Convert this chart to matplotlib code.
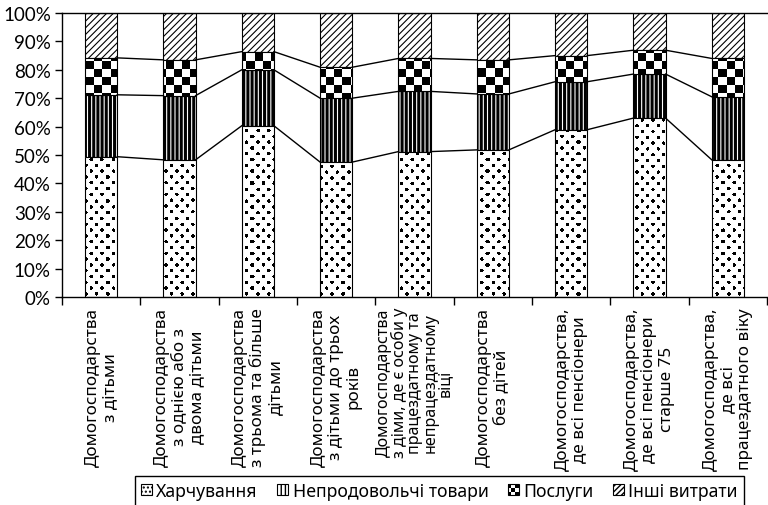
import numpy as np
import matplotlib
matplotlib.use('Agg')
import matplotlib.pyplot as plt
from matplotlib.patches import Rectangle, Patch
from matplotlib.legend_handler import HandlerBase

categories = ['Домогосподарства\nз дітьми',
              'Домогосподарства\nз однією або з\nдвома дітьми',
              'Домогосподарства\nз трьома та більше\nдітьми',
              'Домогосподарства\nз дітьми до трьох\nроків',
              'Домогосподарства\nз діми, де є особи у\nпрацездатному та\nнепрацездатному\nвіці',
              'Домогосподарства\nбез дітей',
              'Домогосподарства,\nде всі пенсіонери',
              'Домогосподарства,\nде всі пенсіонери\nстарше 75',
              'Домогосподарства,\nде всі\nпрацездатного віку']
series_names = ['Харчування', 'Непродовольчі товари', 'Послуги', 'Інші витрати']
food = np.array([49.4, 48.3, 60.3, 47.5, 51.2, 51.8, 58.9, 63.0, 48.3])
nonfood = np.array([21.8, 22.6, 19.7, 22.5, 21.2, 19.7, 16.9, 15.5, 22.2])
services = np.array([13.0, 12.6, 6.4, 10.9, 11.6, 12.0, 9.2, 8.4, 13.5])
other = np.array([15.8, 16.5, 13.6, 19.1, 16.0, 16.5, 15.0, 13.1, 16.0])

fig = plt.figure(figsize=(7.68, 5.06), dpi=100)
ax = fig.add_axes([62 / 768, 1 - 298 / 506, 705 / 768, 284 / 506])

x = np.arange(len(categories))
w = 0.41
lev1 = food
lev2 = food + nonfood
lev3 = food + nonfood + services

b1 = ax.bar(x, food, w, color='none', edgecolor='black', lw=0.8, zorder=1.2)
with plt.rc_context({'hatch.linewidth': 2.2}):
    b2 = ax.bar(x, nonfood, w, bottom=lev1, color='white', edgecolor='black', lw=0.8, hatch='||||')
b3 = ax.bar(x, services, w, bottom=lev2, color='none', edgecolor='black', lw=0.8, zorder=1.2)
with plt.rc_context({'hatch.linewidth': 0.8}):
    b4 = ax.bar(x, other, w, bottom=lev3, color='white', edgecolor='black', lw=0.8, hatch='/////')

# textures (pixel sized) for dots and checkerboard
H, W = 284, 705
yy, xx = np.mgrid[0:H, 0:W]
dots = np.zeros((H, W))
row = 5.8
col = 10.7
for r in range(int(H / row) + 2):
    cy = r * row + 2
    off = (col / 2) * (r % 2)
    for c in range(int(W / col) + 2):
        cx = c * col + off + 2
        dots[(yy - cy) ** 2 + (xx - cx) ** 2 <= 3.2] = 1
checker = ((xx // 8 + yy // 8) % 2).astype(float)

for bars, tex in ((b1, dots), (b3, checker)):
    for p in bars.patches:
        im = ax.imshow(tex, cmap='gray_r', vmin=0, vmax=1, extent=(0, 1, 0, 1),
                       transform=ax.transAxes, interpolation='nearest', aspect='auto', zorder=1.1)
        im.set_clip_path(p)

# series lines
for lev in (lev1, lev2, lev3):
    for i in range(len(x) - 1):
        ax.plot([x[i] + w / 2, x[i + 1] - w / 2], [lev[i], lev[i + 1]], color='black', lw=1.0, zorder=2)

ax.set_xlim(-0.5, len(x) - 0.5)
ax.set_ylim(0, 100)
ax.set_yticks(np.arange(0, 101, 10))
ax.set_yticklabels([f'{v}%' for v in range(0, 101, 10)], fontsize=13.5, family='Lato')
ax.tick_params(axis='y', length=5, width=1, pad=3)
ax.set_xticks(x)
ax.set_xticklabels(categories, rotation=90, fontsize=12.3, family='Noto Sans',
                   ha='center', va='top', multialignment='center', linespacing=1.12)
ax.get_xticklabels()[4].set_fontsize(11.6)
ax.get_xticklabels()[4].set_linespacing(0.93)
ax.tick_params(axis='x', length=0, pad=7)
ax.set_xticks(np.arange(-0.5, len(x), 1), minor=True)
ax.tick_params(axis='x', which='minor', length=6, width=1)
ax.spines['right'].set_visible(False)
for s in ('left', 'bottom', 'top'):
    ax.spines[s].set_linewidth(1.0)


class HandlerChecker(HandlerBase):
    def create_artists(self, legend, orig_handle, xdescent, ydescent, width, height, fontsize, trans):
        arts = [Rectangle((-xdescent, -ydescent), width, height, fc='white', ec='black', lw=0.8, transform=trans)]
        n = 3
        for i in range(n):
            for j in range(n):
                if (i + j) % 2 == 0:
                    arts.append(Rectangle((-xdescent + i * width / n, -ydescent + j * height / n),
                                          width / n, height / n, fc='black', ec='none', transform=trans))
        return arts


h1 = Patch(facecolor='white', edgecolor='black', hatch='....', lw=0.8)
h2 = Patch(facecolor='white', edgecolor='black', hatch='||||', lw=0.8)
h3 = Patch(facecolor='white', edgecolor='black')
h4 = Patch(facecolor='white', edgecolor='black', hatch='//////', lw=0.8)
leg = fig.legend([h1, h2, h3, h4], series_names, loc='upper center', bbox_to_anchor=(0.572, 0.058),
                 ncol=4, frameon=True, fancybox=False, edgecolor='black', framealpha=1,
                 handlelength=0.62, handleheight=0.62, handletextpad=0.25, columnspacing=1.1,
                 borderpad=0.35, borderaxespad=0, prop={'family': 'Noto Sans', 'size': 12.7},
                 handler_map={h3: HandlerChecker()})
leg.get_frame().set_linewidth(1.0)

fig.savefig('out.png', dpi=100)
